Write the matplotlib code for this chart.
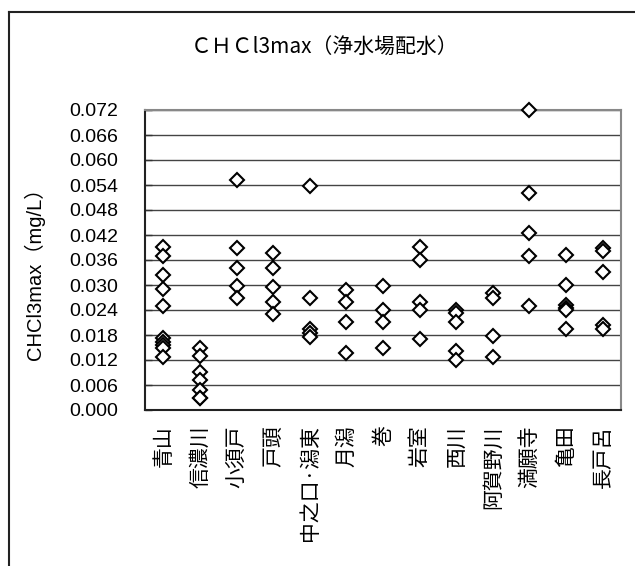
import matplotlib
matplotlib.use("Agg")
import matplotlib.pyplot as plt
from matplotlib.lines import Line2D

plt.rcParams['font.family'] = ['Liberation Sans', 'Noto Sans CJK JP', 'DejaVu Sans']

categories = ["青山", "信濃川", "小須戸", "戸頭", "中之口·潟東", "月潟", "巻", "岩室",
              "西川", "阿賀野川", "満願寺", "亀田", "長戸呂"]

values = {
    "青山": [0.0392, 0.0370, 0.0324, 0.0290, 0.0250, 0.0172, 0.0164, 0.0156, 0.0150, 0.0128],
    "信濃川": [0.0150, 0.0130, 0.0092, 0.0072, 0.0048, 0.0030, 0.0028],
    "小須戸": [0.0552, 0.0388, 0.0340, 0.0298, 0.0268],
    "戸頭": [0.0378, 0.0340, 0.0296, 0.0260, 0.0230],
    "中之口·潟東": [0.0538, 0.0268, 0.0194, 0.0186, 0.0176],
    "月潟": [0.0288, 0.0260, 0.0212, 0.0138],
    "巻": [0.0298, 0.0240, 0.0212, 0.0150],
    "岩室": [0.0392, 0.0360, 0.0260, 0.0240, 0.0170],
    "西川": [0.0240, 0.0232, 0.0212, 0.0142, 0.0120],
    "阿賀野川": [0.0282, 0.0270, 0.0178, 0.0128],
    "満願寺": [0.0720, 0.0520, 0.0424, 0.0370, 0.0250],
    "亀田": [0.0372, 0.0300, 0.0252, 0.0246, 0.0240, 0.0194],
    "長戸呂": [0.0390, 0.0382, 0.0332, 0.0204, 0.0194],
}

yticks = [0.000, 0.006, 0.012, 0.018, 0.024, 0.030, 0.036, 0.042, 0.048, 0.054, 0.060, 0.066, 0.072]

fig = plt.figure(figsize=(6.35, 5.66), dpi=100)
ax = fig.add_axes([145/635, 1-410/566, (621-145)/635, 300/566])

for i, c in enumerate(categories):
    ys = values[c]
    ax.plot([i]*len(ys), ys, linestyle='none', marker='D', markersize=7,
            markerfacecolor='white', markeredgecolor='black', markeredgewidth=1.5,
            clip_on=False, zorder=3)

ax.set_xlim(-0.5, len(categories)-0.5)
ax.set_ylim(0, 0.072)
ax.set_yticks(yticks)
ax.set_yticklabels([f"{v:.3f}" for v in yticks], fontsize=14)
ax.yaxis.grid(True, color='#444444', linewidth=1.0)
ax.set_axisbelow(True)
ax.tick_params(axis='y', direction='in', length=5, width=1, color='#333333', pad=19)
ax.set_xticks(range(len(categories)))
ax.set_xticklabels(categories, rotation=90, fontsize=15, va='top',
                   family=['Noto Sans CJK JP', 'DejaVu Sans'])
ax.tick_params(axis='x', length=0, pad=11)

ax.spines['left'].set_color('#222222')
ax.spines['bottom'].set_color('#222222')
ax.spines['top'].set_color('#888888')
ax.spines['right'].set_color('#888888')
for s in ax.spines.values():
    s.set_linewidth(1.5)

ax.set_ylabel("CHCl3max（mg/L）", fontsize=14.5)
ax.yaxis.set_label_coords((45-145)/476, 0.47)

fig.text(325/635, 1-47/566, "ＣＨＣl3max（浄水場配水）", ha='center', va='center',
         fontsize=15, family=['Noto Sans CJK JP', 'DejaVu Sans'])

# outer chart frame (partially visible)
fig.add_artist(Line2D([9/635, 1.0], [1-12/566, 1-12/566], transform=fig.transFigure,
                      color='#222222', linewidth=1.5))
fig.add_artist(Line2D([9/635, 9/635], [0, 1-12/566], transform=fig.transFigure,
                      color='#222222', linewidth=1.5))

fig.savefig("out.png", dpi=100)
